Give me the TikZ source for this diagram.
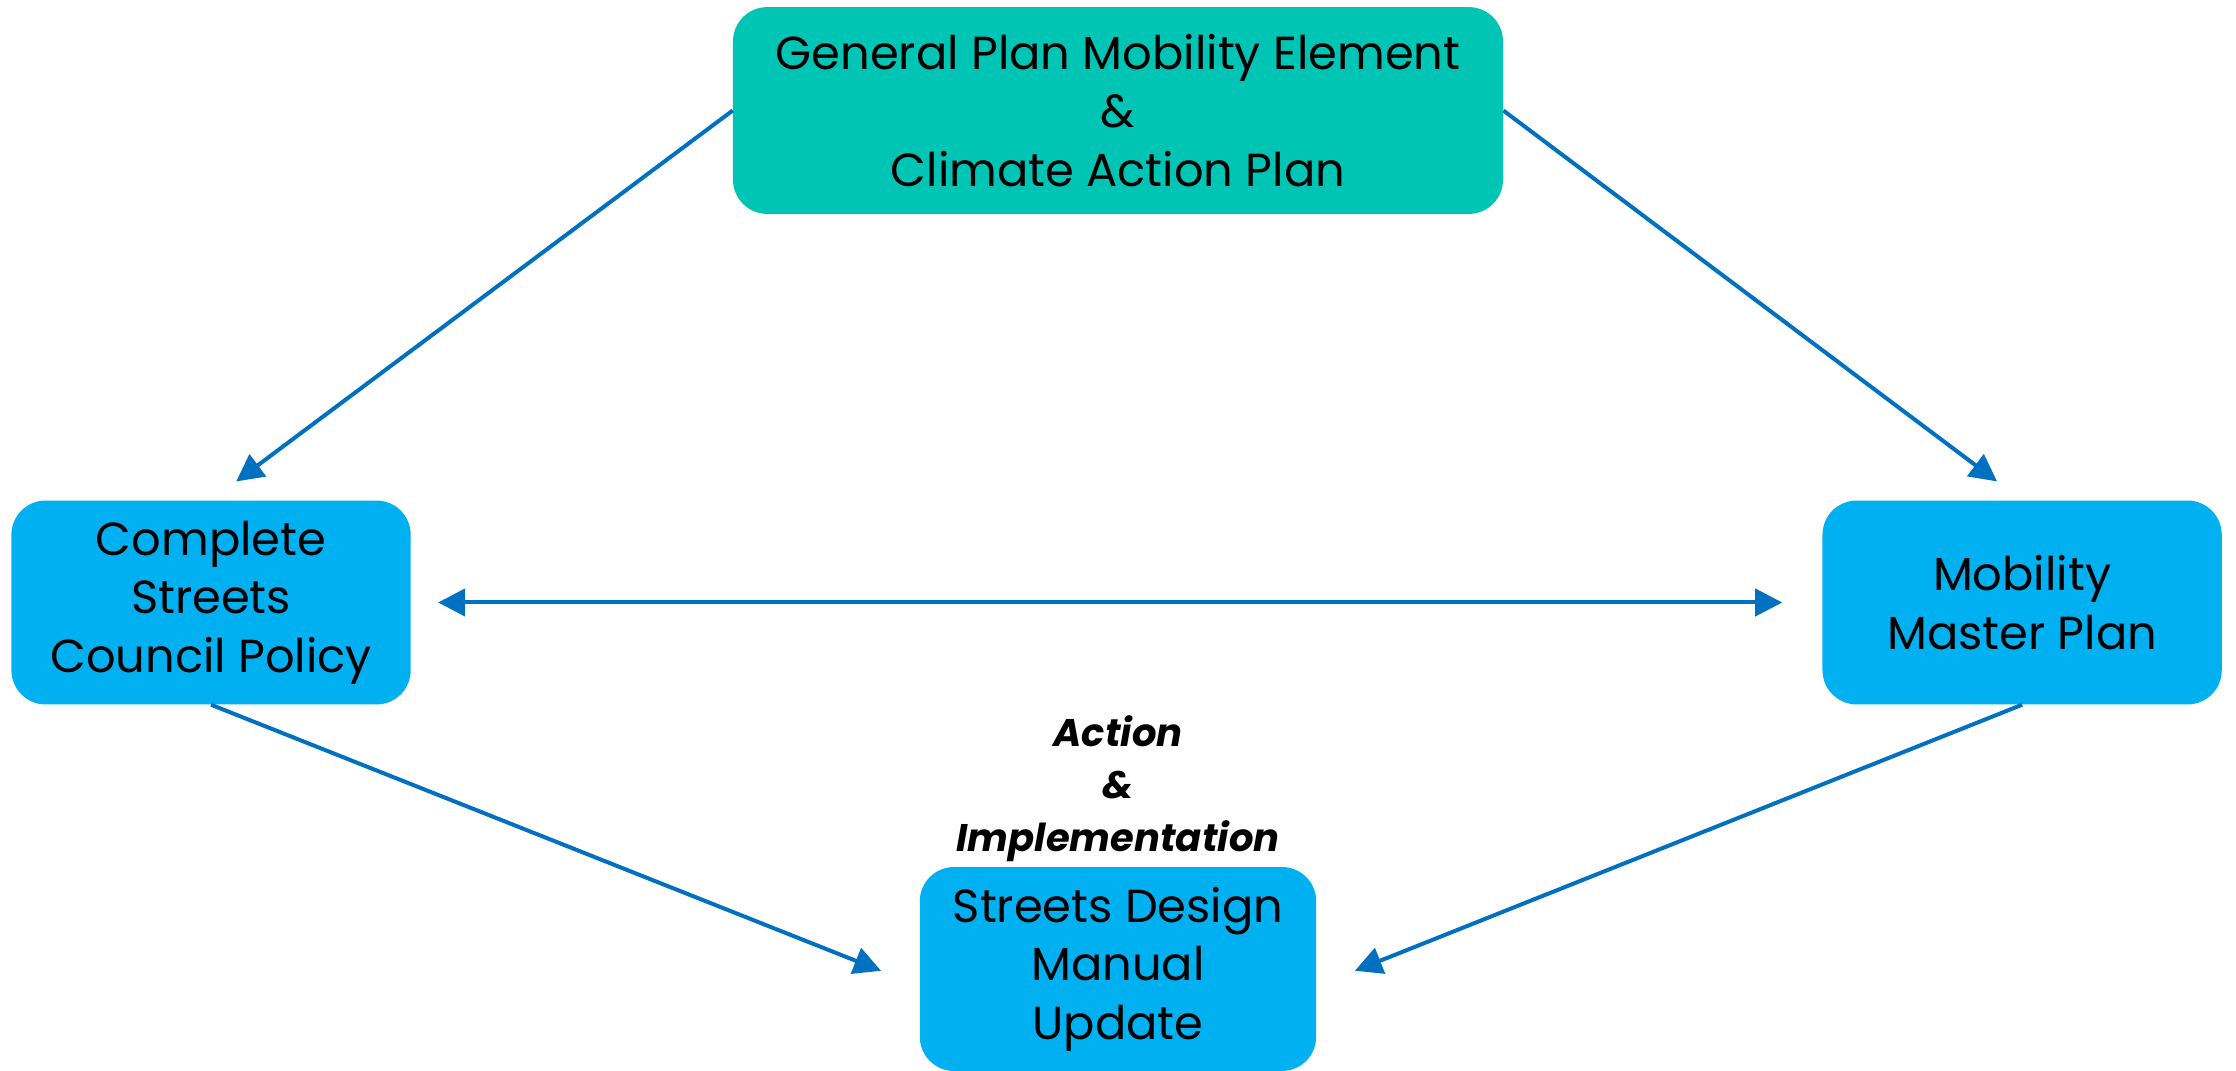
\documentclass[tikz,border=0pt]{standalone}
\usepackage{fontspec}
\setmainfont{Poppins}
\usetikzlibrary{arrows.meta}

\definecolor{planteal}{HTML}{00C5B5}
\definecolor{planblue}{HTML}{00B0F0}
\definecolor{linkblue}{HTML}{0070C0}

\begin{document}
\begin{tikzpicture}[x=1pt,y=-1pt,
		planbox/.style={rounded corners=24pt, minimum width=280pt, minimum height=143pt,
			inner sep=0pt, align=center, font=\fontsize{32.5}{41}\selectfont},
		link/.style={draw=linkblue, line width=2.8pt, -{Triangle[length=19pt,width=19pt]}},
		twolink/.style={draw=linkblue, line width=2.8pt, {Triangle[length=19pt,width=19pt]}-{Triangle[length=19pt,width=19pt]}}]
		\useasboundingbox (0,0) rectangle (1568,751);
		
		\node[planbox, fill=planteal, minimum width=540pt, minimum height=145pt] (gp) at (784,77.5)
			{General Plan Mobility Element\\\&\\Climate Action Plan};
		\node[planbox, fill=planblue] (csp) at (148,422.5) {Complete\\Streets\\Council Policy};
		\node[planbox, fill=planblue] (mmp) at (1418,422.5) {Mobility\\Master Plan};
		\node[planbox, fill=planblue, minimum width=278pt] (sdm) at (784,679.5) {Streets Design\\Manual\\Update};
		\node[align=center, font=\fontsize{27}{37}\selectfont\bfseries\itshape] (act) at (784,553)
			{Action\\\&\\Implementation};
		
		\draw[link, shorten >=22pt] (gp.west) -- (csp.north);
		\draw[link, shorten >=22pt] (gp.east) -- (mmp.north);
		\draw[twolink, shorten <=19pt, shorten >=28pt] (csp.east) -- (mmp.west);
		\draw[link, shorten >=29pt] (csp.south) -- ([yshift=-12pt]sdm.west);
		\draw[link, shorten >=29pt] (mmp.south) -- ([yshift=-12pt]sdm.east);
	\end{tikzpicture}
\end{document}
